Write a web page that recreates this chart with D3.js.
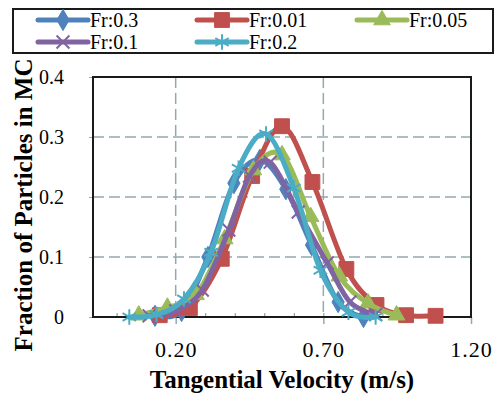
<!DOCTYPE html>
<html lang="en">
<head>
<meta charset="utf-8">
<title>Tangential velocity distribution</title>
<script src="https://cdn.jsdelivr.net/npm/d3@7"></script>
<style>
  body { margin: 0; background: #fff; }
  text { font-family: "Liberation Serif", "Times New Roman", serif; fill: #000; }
  .grid line { stroke: #93a9b0; stroke-width: 1.5; stroke-dasharray: 11,5; }
  .ytick text { font-size: 20px; }
  .xtick text { font-size: 22px; letter-spacing: 1px; }
  .title { font-size: 25px; font-weight: bold; }
  .legend text { font-size: 20px; }
</style>
</head>
<body>
<script>
// series data: velocity (m/s) and fraction of particles
var velFr03  = [0.13, 0.22, 0.309, 0.397, 0.485, 0.573, 0.66, 0.75, 0.836];
var fracFr03 = [0.002, 0.01, 0.1, 0.223, 0.262, 0.213, 0.12, 0.025, 0.0];

var velFr001  = [0.146, 0.248, 0.356, 0.459, 0.56, 0.663, 0.778, 0.88, 0.98, 1.08];
var fracFr001 = [0.003, 0.015, 0.097, 0.235, 0.318, 0.225, 0.08, 0.02, 0.003, 0.002];

var velFr005  = [0.075, 0.172, 0.269, 0.366, 0.463, 0.56, 0.657, 0.754, 0.851, 0.948];
var fracFr005 = [0.003, 0.016, 0.037, 0.13, 0.245, 0.27, 0.167, 0.068, 0.023, 0.003];

var velFr01  = [0.11, 0.2, 0.29, 0.38, 0.45, 0.52, 0.615, 0.713, 0.79, 0.877];
var fracFr01 = [0.002, 0.01, 0.045, 0.145, 0.235, 0.258, 0.175, 0.09, 0.025, 0.004];

var velFr02  = [0.043, 0.135, 0.228, 0.32, 0.413, 0.506, 0.6, 0.69, 0.785, 0.877];
var fracFr02 = [0, 0.004, 0.03, 0.108, 0.248, 0.305, 0.215, 0.078, 0.008, 0.0];

var seriesNames = ["Fr:0.3", "Fr:0.01", "Fr:0.05", "Fr:0.1", "Fr:0.2"];
var xTicks = [0.2, 0.7, 1.2];
var xMinorTicks = [0.0, 0.1, 0.2, 0.3, 0.4, 0.5, 0.6, 0.7, 0.8, 0.9, 1.0, 1.1, 1.2];
var yTicks = [0, 0.1, 0.2, 0.3, 0.4];

var w = 498, h = 396;
var plotLeft = 93, plotRight = 471, plotTop = 77, plotBottom = 317;

var svg = d3.select("body").append("svg")
  .attr("width", w).attr("height", h);

var xScale = d3.scaleLinear().domain([-0.08, 1.2]).range([plotLeft, plotRight]);
var yScale = d3.scaleLinear().domain([0, 0.4]).range([plotBottom, plotTop]);

// gridlines
var grid = svg.append("g").attr("class", "grid");
grid.selectAll(".hg").data(yTicks.slice(1, 4)).enter().append("line")
  .attr("x1", plotLeft).attr("x2", plotRight)
  .attr("y1", function(d) { return yScale(d); })
  .attr("y2", function(d) { return yScale(d); });
grid.selectAll(".vg").data(xTicks.slice(0, 2)).enter().append("line")
  .attr("y1", plotTop).attr("y2", plotBottom)
  .attr("x1", function(d) { return xScale(d); })
  .attr("x2", function(d) { return xScale(d); });

// x axis: major ticks outside, minor ticks inside
var xAxis = d3.axisBottom(xScale).tickValues(xTicks).tickSize(7)
  .tickFormat(d3.format(".2f"));
var xg = svg.append("g").attr("class", "xtick")
  .attr("transform", "translate(0," + plotBottom + ")")
  .call(xAxis);
xg.select(".domain").remove();
xg.selectAll(".tick line").attr("stroke", "#93a9b0").attr("stroke-width", 1.5);
xg.selectAll(".tick text").attr("dy", 0).attr("y", 40);

var xMinor = d3.axisTop(xScale).tickValues(xMinorTicks).tickSize(4).tickFormat("");
var xmg = svg.append("g").attr("transform", "translate(0," + plotBottom + ")").call(xMinor);
xmg.select(".domain").remove();
xmg.selectAll(".tick line").attr("stroke", "#888").attr("stroke-width", 1);

// y axis
var yAxis = d3.axisLeft(yScale).tickValues(yTicks).tickSize(4)
  .tickFormat(function(d) { return d === 0 ? "0" : d3.format(".1f")(d); });
var yg = svg.append("g").attr("class", "ytick")
  .attr("transform", "translate(" + plotLeft + ",0)")
  .call(yAxis);
yg.select(".domain").remove();
yg.selectAll(".tick line").attr("stroke", "#93a9b0");
yg.selectAll(".tick text").attr("x", -29);

// plot frame
svg.append("rect")
  .attr("x", plotLeft).attr("y", plotTop)
  .attr("width", plotRight - plotLeft).attr("height", plotBottom - plotTop)
  .attr("fill", "none").attr("stroke", "#1a1a1a").attr("stroke-width", 2);

var colors = ["#4f81bd", "#c0504d", "#9bbb59", "#8064a2", "#4bacc6"];
var vels = [velFr03, velFr001, velFr005, velFr01, velFr02];
var fracs = [fracFr03, fracFr001, fracFr005, fracFr01, fracFr02];
var symbols = [
  { type: d3.symbolDiamond, size: 130, fill: true },
  { type: d3.symbolSquare, size: 220, fill: true },
  { type: d3.symbolTriangle, size: 120, fill: true },
  { type: d3.symbolTimes, size: 110, fill: false },
  { type: d3.symbolAsterisk, size: 170, fill: false }
];

var line = d3.line()
  .x(function(d) { return xScale(d[0]); })
  .y(function(d) { return yScale(d[1]); })
  .curve(d3.curveCardinal.tension(0));

function drawMarker(g, i, x, y) {
  var s = symbols[i];
  g.append("path")
    .attr("d", d3.symbol().type(s.type).size(s.size)())
    .attr("transform", "translate(" + x + "," + y + ")")
    .attr("fill", s.fill ? colors[i] : "none")
    .attr("stroke", colors[i])
    .attr("stroke-width", s.fill ? 1 : 2);
}

var plot = svg.append("g");
for (var i = 0; i < 5; i++) {
  var pts = d3.zip(vels[i], fracs[i]);
  var sg = plot.append("g");
  sg.append("path").datum(pts)
    .attr("d", line)
    .attr("fill", "none")
    .attr("stroke", colors[i])
    .attr("stroke-width", 5)
    .attr("stroke-linecap", "round");
  pts.forEach(function(p) {
    drawMarker(sg, i, xScale(p[0]), yScale(p[1]));
  });
}

// axis titles
svg.append("text").attr("class", "title")
  .attr("x", (plotLeft + plotRight) / 2).attr("y", 388)
  .attr("text-anchor", "middle")
  .text("Tangential Velocity (m/s)");
svg.append("text").attr("class", "title")
  .attr("transform", "translate(32," + ((plotTop + plotBottom) / 2 + 8) + ") rotate(-90)")
  .attr("text-anchor", "middle")
  .text("Fraction of Particles in MC");

// legend
var legend = svg.append("g").attr("class", "legend");
legend.append("rect")
  .attr("x", 13).attr("y", 9).attr("width", 480).attr("height", 44)
  .attr("fill", "#fff").attr("stroke", "#1a1a1a").attr("stroke-width", 2);
var legX = [38, 197, 357, 38, 197];
var legY = [20, 20, 20, 42, 42];
seriesNames.forEach(function(name, i) {
  var lg = legend.append("g");
  lg.append("line")
    .attr("x1", legX[i]).attr("x2", legX[i] + 50)
    .attr("y1", legY[i]).attr("y2", legY[i])
    .attr("stroke", colors[i]).attr("stroke-width", 5)
    .attr("stroke-linecap", "round");
  drawMarker(lg, i, legX[i] + 25, legY[i]);
  lg.append("text")
    .attr("x", legX[i] + 52).attr("y", legY[i] + 7)
    .text(name);
});
</script>
</body>
</html>
